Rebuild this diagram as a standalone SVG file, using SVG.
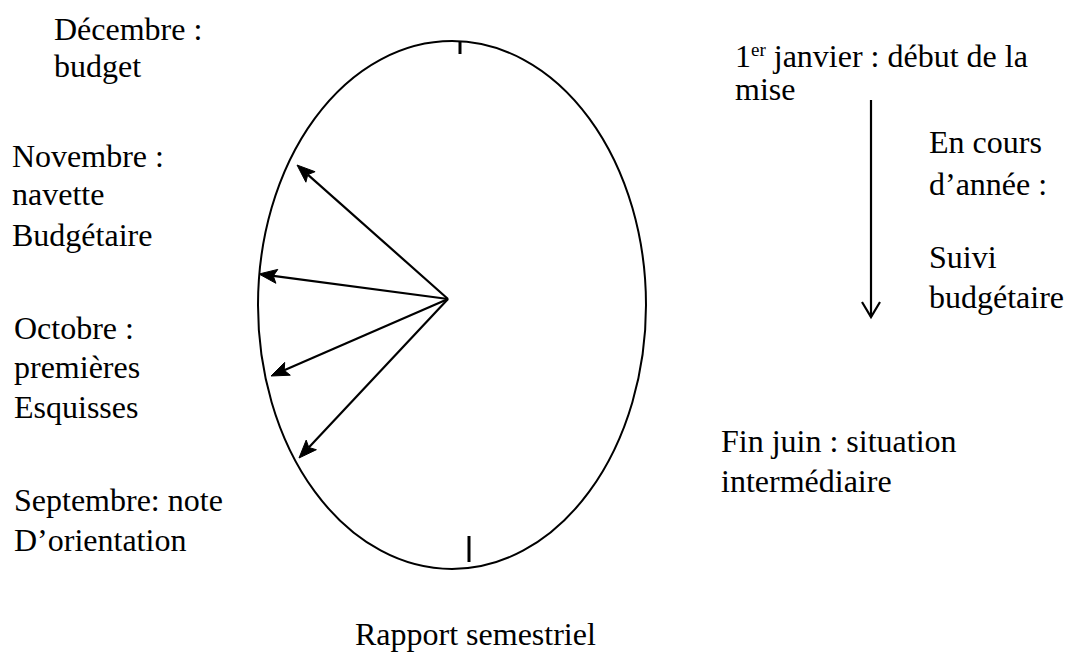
<svg xmlns="http://www.w3.org/2000/svg" width="1066" height="652" viewBox="0 0 1066 652">
<rect width="1066" height="652" fill="#fff"/>
<g id="clock">
<ellipse cx="452" cy="305" rx="194" ry="264" fill="none" stroke="#000" stroke-width="2"/>
<line x1="460" y1="42" x2="460" y2="54" stroke="#000" stroke-width="3"/>
<line x1="469" y1="536" x2="469" y2="562" stroke="#000" stroke-width="3"/>
</g>
<g id="connectors" stroke="#000" stroke-width="2.2" fill="none">
<line x1="448" y1="299" x2="307.8" y2="174.6"/>
<polygon points="297,165 315.1,171.7 307.8,174.6 305.9,182.2" fill="#000" stroke-width="1"/>
<line x1="448" y1="299" x2="273.3" y2="275.9"/>
<polygon points="259,274 277.8,269.4 273.3,275.9 275.9,283.3" fill="#000" stroke-width="1"/>
<line x1="448" y1="299" x2="284.2" y2="370.3"/>
<polygon points="271,376 284.7,362.4 284.2,370.3 290.3,375.2" fill="#000" stroke-width="1"/>
<line x1="448" y1="299" x2="308.8" y2="447.5"/>
<polygon points="299,458 306.2,440.1 308.8,447.5 316.4,449.7" fill="#000" stroke-width="1"/>
<line x1="871" y1="100" x2="871" y2="317"/>
<polyline points="862,302 871,317 880,302"/>
</g>
<g id="decembre"><text style="font-family:'Liberation Serif',serif;font-size:32px" x="54" y="40">Décembre :</text><text style="font-family:'Liberation Serif',serif;font-size:32px" x="54" y="77">budget</text></g>
<g id="novembre"><text style="font-family:'Liberation Serif',serif;font-size:32px" x="12" y="167">Novembre :</text><text style="font-family:'Liberation Serif',serif;font-size:32px" x="12" y="205">navette</text><text style="font-family:'Liberation Serif',serif;font-size:32px" x="12" y="246">Budgétaire</text></g>
<g id="octobre"><text style="font-family:'Liberation Serif',serif;font-size:32px" x="14" y="339">Octobre :</text><text style="font-family:'Liberation Serif',serif;font-size:32px" x="14" y="378">premières</text><text style="font-family:'Liberation Serif',serif;font-size:32px" x="14" y="418">Esquisses</text></g>
<g id="septembre"><text style="font-family:'Liberation Serif',serif;font-size:32px" x="14" y="511">Septembre: note</text><text style="font-family:'Liberation Serif',serif;font-size:32px" x="14" y="551">D’orientation</text></g>
<g id="janvier"><text style="font-family:'Liberation Serif',serif;font-size:32px" x="735" y="67">1<tspan style="font-size:19px" dy="-11">er</tspan><tspan dy="11"> janvier : début de la</tspan></text><text style="font-family:'Liberation Serif',serif;font-size:32px" x="735" y="100">mise</text></g>
<g id="encours"><text style="font-family:'Liberation Serif',serif;font-size:32px" x="929" y="153">En cours</text><text style="font-family:'Liberation Serif',serif;font-size:32px" x="929" y="195">d’année :</text><text style="font-family:'Liberation Serif',serif;font-size:32px" x="929" y="268">Suivi</text><text style="font-family:'Liberation Serif',serif;font-size:32px" x="929" y="308">budgétaire</text></g>
<g id="finjuin"><text style="font-family:'Liberation Serif',serif;font-size:32px" x="721" y="452">Fin juin : situation</text><text style="font-family:'Liberation Serif',serif;font-size:32px" x="721" y="492">intermédiaire</text></g>
<g id="rapport"><text style="font-family:'Liberation Serif',serif;font-size:32px" x="355" y="645">Rapport semestriel</text></g>
</svg>
